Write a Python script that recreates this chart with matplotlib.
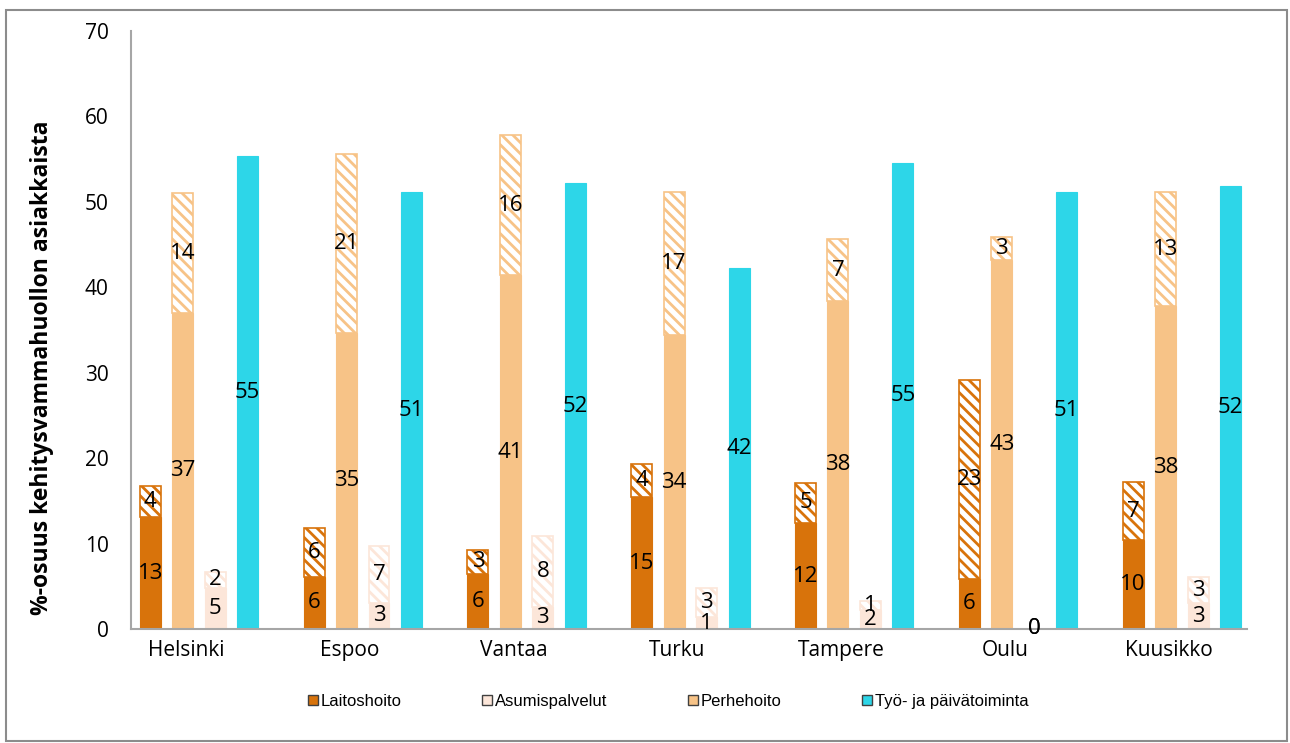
import matplotlib.pyplot as plt
import numpy as np
from matplotlib.patches import Patch, Rectangle

# --------------------------------------------------------------------------------
# DATA (solid part + hatched part of each bar)
# --------------------------------------------------------------------------------
cities = ['Helsinki', 'Espoo', 'Vantaa', 'Turku', 'Tampere', 'Oulu', 'Kuusikko']

laitos_solid = [13.1, 6.1, 6.4, 15.4, 12.4, 5.9, 10.4]
laitos_hatch = [3.6, 5.7, 2.9, 3.9, 4.7, 23.3, 6.8]

perhe_solid = [37.0, 34.7, 41.4, 34.4, 38.4, 43.2, 37.8]
perhe_hatch = [14.0, 20.9, 16.4, 16.7, 7.2, 2.7, 13.3]

asumis_solid = [4.8, 3.1, 2.6, 1.4, 2.2, 0.0, 3.0]
asumis_hatch = [1.9, 6.6, 8.3, 3.4, 1.1, 0.0, 3.1]

tyo = [55.4, 51.2, 52.2, 42.3, 54.6, 51.1, 51.9]

legend_labels = ['Laitoshoito', 'Asumispalvelut', 'Perhehoito', 'Työ- ja päivätoiminta']

c_laitos = '#D8730B'
c_perhe = '#F7C387'
c_asumis = '#FCE6D9'
c_tyo = '#2DD6E8'

plt.rcParams['font.family'] = ['Open Sans', 'DejaVu Sans']
plt.rcParams['hatch.linewidth'] = 2.0

fig = plt.figure(figsize=(12.9, 7.43), dpi=100)
ax = fig.add_axes([131 / 1290, 1 - 629 / 743, (1247 - 131) / 1290, (629 - 31) / 743])

x = np.arange(len(cities))
w = 0.128
hatch = '\\\\\\'
fs = 16


def stacked(pos, solid, top, color):
    b1 = ax.bar(pos, solid, w, color=color, edgecolor=color, linewidth=0.8)
    b2 = ax.bar(pos, top, w, bottom=solid, facecolor='white', edgecolor=color,
                linewidth=1.2, hatch=hatch)
    ax.bar_label(b1, labels=[f'{v:.0f}' for v in solid], label_type='center', fontsize=fs)
    ax.bar_label(b2, labels=[f'{v:.0f}' for v in top], label_type='center', fontsize=fs)


stacked(x - 0.297, laitos_solid, laitos_hatch, c_laitos)
stacked(x - 0.099, perhe_solid, perhe_hatch, c_perhe)
stacked(x + 0.099, asumis_solid, asumis_hatch, c_asumis)
bt = ax.bar(x + 0.297, tyo, w, color=c_tyo, edgecolor=c_tyo, linewidth=0.8)
ax.bar_label(bt, labels=[f'{v:.0f}' for v in tyo], label_type='center', fontsize=fs)

ax.set_xlim(-0.415, 6.398)
ax.set_ylim(0, 70)
ax.set_yticks(range(0, 71, 10))
ax.set_xticks(x - 0.08)
ax.set_xticklabels(cities)
ax.tick_params(axis='both', length=0, labelsize=15)
ax.tick_params(axis='y', pad=16)
ax.tick_params(axis='x', pad=8)

for s in ['top', 'right']:
    ax.spines[s].set_visible(False)
for s in ['left', 'bottom']:
    ax.spines[s].set_color('#A6A6A6')
    ax.spines[s].set_linewidth(1.5)

fig.text(42 / 1290, 0.505, '%-osuus kehitysvammahuollon asiakkaista', rotation=90,
         ha='center', va='center', fontsize=16.5, fontweight='bold')

handles = [Patch(facecolor=c, edgecolor='#404040', linewidth=1)
           for c in [c_laitos, c_asumis, c_perhe, c_tyo]]
fig.legend(handles, legend_labels, loc='center', bbox_to_anchor=(0.518, 0.056), ncol=4,
           frameon=False, handlelength=0.6, handleheight=0.6, handletextpad=0.2,
           columnspacing=4.8, prop={'family': ['Liberation Sans Narrow', 'Liberation Sans'], 'size': 12})

fig.add_artist(Rectangle((0.005, 0.003), 0.993, 0.984, transform=fig.transFigure,
                         fill=False, edgecolor='#8C8C8C', linewidth=1.5))

fig.savefig('out.png', dpi=100)
